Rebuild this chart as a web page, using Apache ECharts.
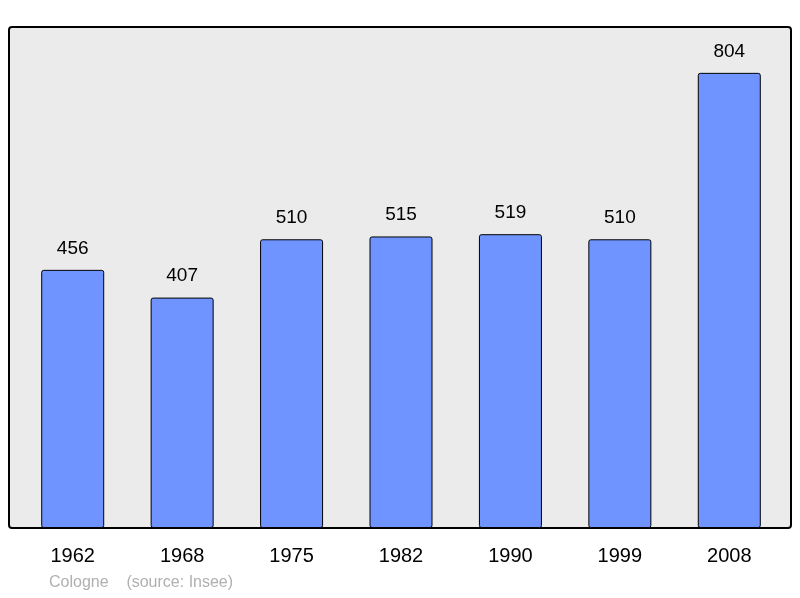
<!DOCTYPE html>
<html>
<head>
<meta charset="utf-8">
<script src="https://cdn.jsdelivr.net/npm/echarts@6/dist/echarts.min.js"></script>
<style>
  html, body { margin: 0; padding: 0; background: #fff; }
  #chart { width: 800px; height: 598px; }
</style>
</head>
<body>
<div id="chart"></div>
<script>
const years = ["1962", "1968", "1975", "1982", "1990", "1999", "2008"];
const population = [456, 407, 510, 515, 519, 510, 804];

const chart = echarts.init(document.getElementById("chart"));
chart.setOption({
  animation: false,
  grid: { left: 18, right: 16, top: 27, bottom: 70 },
  xAxis: {
    type: "category",
    data: years,
    axisLine: { show: false },
    axisTick: { show: false },
    axisLabel: { color: "#000", fontSize: 20, fontFamily: "Liberation Sans", margin: 18 }
  },
  yAxis: { type: "value", min: 0, max: 885, show: false, splitLine: { show: false } },
  series: [{
    type: "bar",
    data: population,
    barWidth: 63,
    itemStyle: { color: "#7094ff", borderColor: "#000", borderWidth: 1, borderRadius: 2 },
    label: {
      show: true, position: "top", distance: 12,
      color: "#000", fontSize: 19, fontFamily: "Liberation Sans"
    }
  }],
  graphic: [
    {
      type: "rect", z: -10, silent: true,
      shape: { x: 9, y: 27, width: 782, height: 501, r: 3 },
      style: { fill: "#ebebeb", stroke: "#000", lineWidth: 2 }
    },
    {
      type: "text", left: 49, top: 575,
      style: { text: "Cologne    (source: Insee)", fill: "#b0b0b0", fontSize: 16, fontFamily: "Liberation Sans" }
    }
  ]
});
</script>
</body>
</html>
